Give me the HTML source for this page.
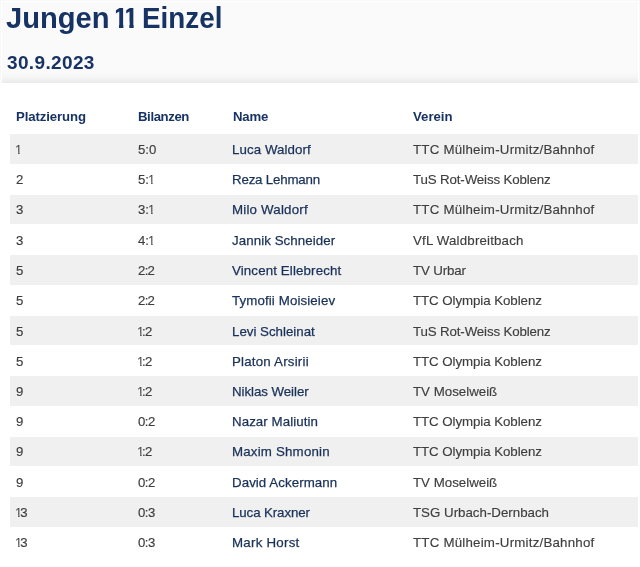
<!DOCTYPE html>
<html lang="de"><head><meta charset="utf-8"><title>Jungen 11 Einzel</title>
<style>
html,body{margin:0;padding:0;background:#fff;}
body{width:640px;height:567px;position:relative;overflow:hidden;font-family:"Liberation Sans",sans-serif;}
.frame{position:absolute;left:0;top:0;width:640px;height:83px;background:#f8f8f8;}
.frame2{position:absolute;left:1px;top:1px;width:638px;height:82px;background:#fff;}
.hdr{position:absolute;left:2px;top:2px;width:636px;height:80.5px;background:linear-gradient(to bottom,#fafafa 0,#fafafa 70px,#f6f6f6 75px,#ebebeb 80.5px);}
h1{position:absolute;left:0;top:1.3px;margin:0;font-size:29px;line-height:34px;font-weight:bold;color:#173363;white-space:nowrap;}
h1 span{position:absolute;top:0;transform-origin:0 0;}
h1 .one{clip-path:polygon(0.118em 0,0.375em 0,0.375em 100%,0.225em 100%,0.225em 60%,0.118em 60%);}
h2{position:absolute;top:51.5px;margin:0;font-size:19px;line-height:22px;font-weight:bold;color:#173363;white-space:nowrap;}
.th{position:absolute;top:108.3px;transform:scaleX(0.97);transform-origin:0 0;font-size:13.6px;line-height:18px;font-weight:bold;color:#173363;white-space:nowrap;}
.row{position:absolute;left:0;width:640px;height:30px;}
.row i{position:absolute;left:10px;top:0;width:628px;height:29.9px;background:#f0f0f0;}
.c{position:absolute;top:var(--t);font-size:13.3px;line-height:18px;color:#3e3e3e;white-space:nowrap;-webkit-text-stroke:0.15px currentColor;}
.c.n{color:#1a3159;-webkit-text-stroke:0.25px currentColor;}
.c.d{font-size:13.2px;}
.o{display:inline-block;margin-left:-0.08em;margin-right:-0.15em;clip-path:polygon(0.09em 0,0.35em 0,0.35em 100%,0.245em 100%,0.245em 60%,0.09em 60%);}
</style></head><body>
<div class="frame"></div><div class="frame2"></div><div class="hdr"></div>
<h1><span style="left:6.3px;transform:scaleX(1.005)">Jungen</span> <span class="one" style="left:112.5px">1</span><span class="one" style="left:122.8px">1</span> <span style="left:142.1px;transform:scaleX(0.959)">Einzel</span></h1>
<h2 style="left:7.00px;letter-spacing:0.360px">30.9.2023</h2>
<div class="th" style="left:16.00px;letter-spacing:-0.108px">Platzierung</div>
<div class="th" style="left:138.00px;letter-spacing:-0.418px">Bilanzen</div>
<div class="th" style="left:232.90px;letter-spacing:-0.225px">Name</div>
<div class="th" style="left:413.00px;letter-spacing:0.000px">Verein</div>
<div class="row" style="top:134.00px;--t:7.05px"><i></i><span class="c d" style="left:16.00px;letter-spacing:0.000px"><span class="o">1</span></span><span class="c d" style="left:138.00px;letter-spacing:0.000px">5:0</span><span class="c n" style="left:232.00px;letter-spacing:0.082px">Luca Waldorf</span><span class="c" style="left:413.00px;letter-spacing:0.216px">TTC Mülheim-Urmitz/Bahnhof</span></div>
<div class="row" style="top:164.25px;--t:6.80px"><span class="c d" style="left:16.00px;letter-spacing:0.000px">2</span><span class="c d" style="left:138.00px;letter-spacing:0.000px">5:<span class="o">1</span></span><span class="c n" style="left:232.00px;letter-spacing:-0.184px">Reza Lehmann</span><span class="c" style="left:413.00px;letter-spacing:-0.135px">TuS Rot-Weiss Koblenz</span></div>
<div class="row" style="top:194.50px;--t:6.55px"><i></i><span class="c d" style="left:16.00px;letter-spacing:0.000px">3</span><span class="c d" style="left:138.00px;letter-spacing:0.000px">3:<span class="o">1</span></span><span class="c n" style="left:232.00px;letter-spacing:0.205px">Milo Waldorf</span><span class="c" style="left:413.00px;letter-spacing:0.216px">TTC Mülheim-Urmitz/Bahnhof</span></div>
<div class="row" style="top:224.75px;--t:7.30px"><span class="c d" style="left:16.00px;letter-spacing:0.000px">3</span><span class="c d" style="left:138.00px;letter-spacing:0.000px">4:<span class="o">1</span></span><span class="c n" style="left:232.00px;letter-spacing:0.075px">Jannik Schneider</span><span class="c" style="left:413.00px;letter-spacing:0.169px">VfL Waldbreitbach</span></div>
<div class="row" style="top:255.00px;--t:7.05px"><i></i><span class="c d" style="left:16.00px;letter-spacing:0.000px">5</span><span class="c d" style="left:138.00px;letter-spacing:-0.700px">2:2</span><span class="c n" style="left:232.00px;letter-spacing:0.132px">Vincent Ellebrecht</span><span class="c" style="left:413.00px;letter-spacing:-0.129px">TV Urbar</span></div>
<div class="row" style="top:285.25px;--t:6.80px"><span class="c d" style="left:16.00px;letter-spacing:0.000px">5</span><span class="c d" style="left:138.00px;letter-spacing:-0.700px">2:2</span><span class="c n" style="left:232.00px;letter-spacing:0.113px">Tymofii Moisieiev</span><span class="c" style="left:413.00px;letter-spacing:-0.065px">TTC Olympia Koblenz</span></div>
<div class="row" style="top:315.50px;--t:7.55px"><i></i><span class="c d" style="left:16.00px;letter-spacing:0.000px">5</span><span class="c d" style="left:138.00px;letter-spacing:-0.450px"><span class="o">1</span>:2</span><span class="c n" style="left:232.00px;letter-spacing:0.000px">Levi Schleinat</span><span class="c" style="left:413.00px;letter-spacing:-0.135px">TuS Rot-Weiss Koblenz</span></div>
<div class="row" style="top:345.75px;--t:7.30px"><span class="c d" style="left:16.00px;letter-spacing:0.000px">5</span><span class="c d" style="left:138.00px;letter-spacing:-0.450px"><span class="o">1</span>:2</span><span class="c n" style="left:232.00px;letter-spacing:0.208px">Platon Arsirii</span><span class="c" style="left:413.00px;letter-spacing:-0.065px">TTC Olympia Koblenz</span></div>
<div class="row" style="top:376.00px;--t:7.05px"><i></i><span class="c d" style="left:16.00px;letter-spacing:0.000px">9</span><span class="c d" style="left:138.00px;letter-spacing:-0.450px"><span class="o">1</span>:2</span><span class="c n" style="left:232.00px;letter-spacing:-0.056px">Niklas Weiler</span><span class="c" style="left:413.00px;letter-spacing:0.000px">TV Moselweiß</span></div>
<div class="row" style="top:406.25px;--t:6.80px"><span class="c d" style="left:16.00px;letter-spacing:0.000px">9</span><span class="c d" style="left:138.00px;letter-spacing:-0.495px">0:2</span><span class="c n" style="left:232.00px;letter-spacing:0.069px">Nazar Maliutin</span><span class="c" style="left:413.00px;letter-spacing:-0.065px">TTC Olympia Koblenz</span></div>
<div class="row" style="top:436.50px;--t:6.55px"><i></i><span class="c d" style="left:16.00px;letter-spacing:0.000px">9</span><span class="c d" style="left:138.00px;letter-spacing:-0.450px"><span class="o">1</span>:2</span><span class="c n" style="left:232.00px;letter-spacing:0.188px">Maxim Shmonin</span><span class="c" style="left:413.00px;letter-spacing:-0.065px">TTC Olympia Koblenz</span></div>
<div class="row" style="top:466.75px;--t:7.30px"><span class="c d" style="left:16.00px;letter-spacing:0.000px">9</span><span class="c d" style="left:138.00px;letter-spacing:-0.495px">0:2</span><span class="c n" style="left:232.00px;letter-spacing:0.064px">David Ackermann</span><span class="c" style="left:413.00px;letter-spacing:0.000px">TV Moselweiß</span></div>
<div class="row" style="top:497.00px;--t:7.05px"><i></i><span class="c d" style="left:16.00px;letter-spacing:0.000px"><span class="o">1</span>3</span><span class="c d" style="left:138.00px;letter-spacing:-0.495px">0:3</span><span class="c n" style="left:232.00px;letter-spacing:-0.102px">Luca Kraxner</span><span class="c" style="left:413.00px;letter-spacing:0.000px">TSG Urbach-Dernbach</span></div>
<div class="row" style="top:527.25px;--t:6.80px"><span class="c d" style="left:16.00px;letter-spacing:0.000px"><span class="o">1</span>3</span><span class="c d" style="left:138.00px;letter-spacing:-0.495px">0:3</span><span class="c n" style="left:232.00px;letter-spacing:0.250px">Mark Horst</span><span class="c" style="left:413.00px;letter-spacing:0.216px">TTC Mülheim-Urmitz/Bahnhof</span></div>
</body></html>
